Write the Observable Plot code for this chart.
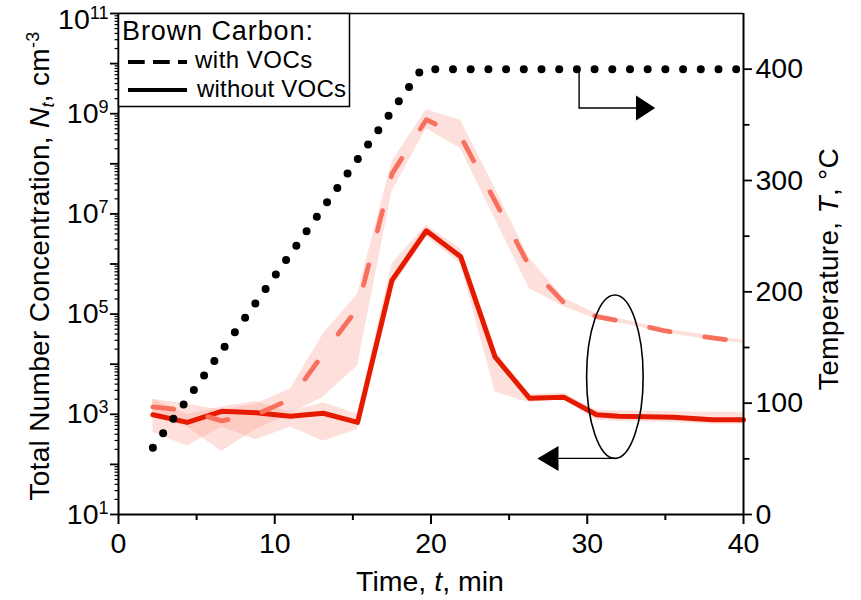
<!DOCTYPE html>
<html><head><meta charset="utf-8">
<script src="https://cdn.jsdelivr.net/npm/d3@7"></script>
<script src="https://cdn.jsdelivr.net/npm/@observablehq/plot@0.6"></script>
<style>
body{margin:0;background:#fff;}
#wrap{position:relative;width:861px;height:600px;}
</style></head><body><div id="wrap"></div>
<script>
// ---- data ----
const timeSolid   = [2.2, 4.4, 6.6, 8.8, 11.0, 13.1, 15.3, 17.5, 19.7, 21.9, 24.1, 26.3, 28.5, 30.6, 32.0, 35.5, 38.0, 40];
const withoutVOCs = [980, 690, 1150, 1070, 910, 1050, 690, 4.7e5, 4.6e6, 1.4e6, 1.4e4, 2100, 2200, 980, 910, 870, 780, 780];
const withoutLow  = [440, 230, 560, 310, 560, 290, 500, 3.2e5, 3.5e6, 1.0e6, 2800, 1700, 2000, 760, 720, 690, 630, 630];
const withoutHigh = [2000, 1000, 1400, 1800, 1100, 1700, 1000, 1.0e6, 6.0e6, 2.0e6, 1.8e4, 2500, 2600, 1200, 1170, 1120, 1100, 1100];

const timeDashed  = [2.2, 4.4, 6.6, 8.8, 11.0, 13.1, 15.3, 17.5, 19.7, 21.9, 24.1, 26.3, 28.5, 30.6, 32.8, 35.0, 37.2, 40];
const withVOCs    = [1400, 1200, 740, 980, 2000, 1.6e4, 1.3e5, 6.3e7, 7.6e8, 3.5e8, 1.8e7, 8.9e5, 1.7e5, 8.9e4, 6.6e4, 4.6e4, 3.6e4, 2.8e4];
const withLow     = [1000, 560, 180, 500, 1000, 2200, 9300, 2.8e7, 5.0e8, 2.0e8, 7.9e6, 3.2e5, 1.4e5, 7.9e4, 6.0e4, 4.2e4, 3.3e4, 2.6e4];
const withHigh    = [2000, 1600, 1200, 1600, 3200, 4.0e4, 2.5e5, 1.1e8, 1.2e9, 7.4e8, 3.2e7, 1.3e6, 2.1e5, 1.0e5, 7.2e4, 5.0e4, 4.0e4, 3.0e4];

const tempTime    = [2.2, 19.4, 40];
const tempValues  = [60, 400, 400];

const xMajorTicks = [0, 10, 20, 30, 40];
const xMinorTicks = [5, 15, 25, 35];
const yDecades    = [1,2,3,4,5,6,7,8,9,10,11];
const yLabeled    = [1,3,5,7,9,11];
const tMajorTicks = [0, 100, 200, 300, 400];
const tMinorTicks = [50, 150, 250, 350];

// ---- helpers ----
const FONT = "'Liberation Sans', Arial, Helvetica, sans-serif";
const TICK_FS = 28.5;
const tToY = T => Math.pow(10, 1 + T / 45);          // right axis 0..450 °C onto log 10^1..10^11
const yToT = v => (Math.log10(v) - 1) * 45;

const solid  = timeSolid.map((t, i) => ({t, v: withoutVOCs[i], lo: withoutLow[i], hi: withoutHigh[i]}));
const dashed = timeDashed.map((t, i) => ({t, v: withVOCs[i], lo: withLow[i], hi: withHigh[i]}));
const temp   = tempTime.map((t, i) => ({t, y: tToY(tempValues[i])}));

const majorY = yDecades.map(e => Math.pow(10, e));
const minorY = [];
for (let e = 1; e <= 10; e++) for (let m = 2; m <= 9; m++) minorY.push(m * Math.pow(10, e));

const plot = Plot.plot({
  width: 861, height: 600,
  marginLeft: 118, marginRight: 118, marginTop: 13, marginBottom: 86,
  style: {fontFamily: FONT, fontSize: TICK_FS + "px", color: "black", background: "white", overflow: "visible"},
  x: {domain: [0, 40]},
  y: {type: "log", domain: [10, 1e11]},
  marks: [
    Plot.areaY(dashed, {x: "t", y1: "lo", y2: "hi", fill: "#f9a699", fillOpacity: 0.35}),
    Plot.areaY(solid,  {x: "t", y1: "lo", y2: "hi", fill: "#f9a699", fillOpacity: 0.35}),
    Plot.line(solid,  {x: "t", y: "v", stroke: "#e61a00", strokeWidth: 5, strokeLinejoin: "round"}),
    Plot.line(dashed, {x: "t", y: "v", stroke: "#f96f5d", strokeWidth: 4.8, strokeDasharray: "21,35", strokeLinecap: "round", strokeLinejoin: "round"}),
    Plot.line(temp,   {x: "t", y: "y", stroke: "black", strokeWidth: 8, strokeDasharray: "0,17.7", strokeLinecap: "round"}),
    // axes
    Plot.axisX({ticks: xMajorTicks, tickSize: 10, tickPadding: 8, strokeWidth: 2, fontSize: TICK_FS, label: null}),
    Plot.axisX({ticks: xMinorTicks, tickSize: 6, strokeWidth: 2, tickFormat: () => "", label: null}),
    Plot.axisY({ticks: majorY, tickSize: 8, tickPadding: 2, strokeWidth: 1.8, fontSize: TICK_FS, label: null,
      tickFormat: v => { const e = Math.round(Math.log10(v)); return yLabeled.includes(e) ? "10^" + e : ""; }}),
    Plot.axisY({ticks: minorY, tickSize: 3.5, strokeWidth: 1.2, tickFormat: () => "", label: null}),
    Plot.axisY({anchor: "right", ticks: tMajorTicks.map(tToY), tickSize: 8, tickPadding: 4, strokeWidth: 1.8, fontSize: TICK_FS, label: null,
      tickFormat: v => String(Math.round(yToT(v)))}),
    Plot.axisY({anchor: "right", ticks: tMinorTicks.map(tToY), tickSize: 5.5, strokeWidth: 1.8, tickFormat: () => "", label: null}),
    // frame
    Plot.ruleX([0],  {strokeWidth: 2}),
    Plot.ruleX([40], {strokeWidth: 2}),
    Plot.ruleY([10], {strokeWidth: 2}),
    Plot.ruleY([1e11], {strokeWidth: 1.3})
  ]
});

document.getElementById("wrap").appendChild(plot);
const svg = d3.select(plot);
const X = plot.scale("x"), Y = plot.scale("y");
const px = t => X.apply(t), py = v => Y.apply(v), pT = T => Y.apply(tToY(T));

// superscript tick labels 10^n
svg.selectAll("text").each(function () {
  const m = this.textContent.match(/^10\^(\d+)$/);
  if (m) {
    const s = d3.select(this);
    this.textContent = "";
    s.append("tspan").text("10");
    s.append("tspan").attr("dy", "-10").attr("font-size", "18px").text(m[1]);
    if (m[1] === "11") s.attr("transform", (s.attr("transform") || "") + " translate(0,6)");
  }
});

const g = svg.append("g").attr("font-family", FONT).attr("fill", "black").attr("text-anchor", "start");

// axis titles
const xt = g.append("text").attr("x", 430).attr("y", 591).attr("text-anchor", "middle").attr("font-size", "28.5px");
xt.append("tspan").text("Time, ");
xt.append("tspan").attr("font-style", "italic").text("t");
xt.append("tspan").text(", min");

const yt = g.append("text").attr("transform", "translate(49,266) rotate(-90)").attr("text-anchor", "middle").attr("font-size", "28px").attr("letter-spacing", "0.3px");
yt.append("tspan").text("Total Number Concentration, ");
yt.append("tspan").attr("font-style", "italic").text("N");
yt.append("tspan").attr("font-style", "italic").attr("font-size", "18px").attr("dy", "5").text("t");
yt.append("tspan").attr("dy", "-5").text(", cm");
yt.append("tspan").attr("font-size", "18px").attr("dy", "-10").text("-3");

const rt = g.append("text").attr("transform", "translate(838,269) rotate(-90)").attr("text-anchor", "middle").attr("font-size", "28px").attr("letter-spacing", "0.3px");
rt.append("tspan").text("Temperature, ");
rt.append("tspan").attr("font-style", "italic").text("T");
rt.append("tspan").text(", \u00B0C");

// legend
const lg = g.append("g").attr("text-anchor", "start");
lg.append("rect").attr("x", 118.5).attr("y", 13.5).attr("width", 231).attr("height", 93).attr("fill", "white").attr("stroke", "black").attr("stroke-width", 1.5);
lg.append("text").attr("x", 122).attr("y", 40).attr("font-size", "27px").attr("letter-spacing", "0.9px").text("Brown Carbon:");
lg.append("line").attr("x1", 128).attr("x2", 187).attr("y1", 62).attr("y2", 62).attr("stroke", "black").attr("stroke-width", 4).attr("stroke-dasharray", "16.7,8.3");
lg.append("text").attr("x", 195).attr("y", 68).attr("font-size", "24px").attr("letter-spacing", "0.5px").text("with VOCs");
lg.append("line").attr("x1", 128).attr("x2", 187).attr("y1", 90).attr("y2", 90).attr("stroke", "black").attr("stroke-width", 4);
lg.append("text").attr("x", 197).attr("y", 97).attr("font-size", "24px").attr("letter-spacing", "0.2px").text("without VOCs");

// annotations: ellipse + arrow pointing to left axis
const ecx = px(31.8), ecy = py(Math.pow(10, 3.74));
const erx = px(31.8 + 1.81) - ecx, ery = py(Math.pow(10, 3.74 - 1.63)) - ecy;
g.append("ellipse").attr("cx", ecx).attr("cy", ecy).attr("rx", erx).attr("ry", ery).attr("fill", "none").attr("stroke", "black").attr("stroke-width", 1.6);
const ay = ecy + ery;
g.append("line").attr("x1", ecx).attr("x2", px(28.19)).attr("y1", ay).attr("y2", ay).attr("stroke", "black").attr("stroke-width", 1.4);
g.append("path").attr("d", `M${px(26.84)},${ay} L${px(28.19)},${ay - 12.5} L${px(28.19)},${ay + 12.5} Z`).attr("fill", "black");

// arrow pointing to right axis
const bx = px(29.51), by1 = pT(400), by2 = pT(364.7);
g.append("path").attr("d", `M${bx},${by1} L${bx},${by2} L${px(33.15)},${by2}`).attr("fill", "none").attr("stroke", "black").attr("stroke-width", 1.4);
g.append("path").attr("d", `M${px(34.38)},${by2} L${px(33.15)},${by2 - 12.5} L${px(33.15)},${by2 + 12.5} Z`).attr("fill", "black");
</script>
</body></html>
